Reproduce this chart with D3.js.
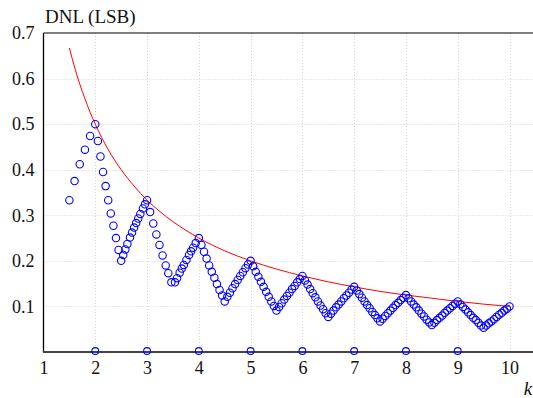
<!DOCTYPE html>
<html>
<head>
<meta charset="utf-8">
<script src="https://cdn.jsdelivr.net/npm/d3@7"></script>
<style>
  html, body { margin: 0; padding: 0; background: #fff; }
  svg { display: block; }
  svg text { font-family: "Liberation Serif", "Times New Roman", Times, "DejaVu Serif", serif; fill: #111; }
</style>
</head>
<body>
<svg id="chart" width="533" height="398"></svg>
<script>
// ---- data ----
const kValues = [
  1.5, 1.6, 1.7, 1.8, 1.9, 2.0,
  2.05, 2.10, 2.15, 2.20, 2.25, 2.30, 2.35, 2.40, 2.45, 2.50,
  2.54, 2.58, 2.62, 2.67, 2.71, 2.75, 2.79, 2.83, 2.87, 2.92, 2.96, 3.00,
  3.06, 3.12, 3.18, 3.24, 3.30, 3.36, 3.41, 3.47,
  3.54, 3.58, 3.63, 3.67, 3.71, 3.76, 3.81, 3.85, 3.89, 3.94, 4.00,
  4.05, 4.10, 4.15, 4.20, 4.25, 4.30, 4.35, 4.40, 4.45, 4.50,
  4.55, 4.60, 4.65, 4.70, 4.75, 4.80, 4.85, 4.90, 4.95, 5.00,
  5.05, 5.10, 5.15, 5.20, 5.25, 5.30, 5.35, 5.40, 5.45, 5.50,
  5.55, 5.60, 5.65, 5.70, 5.75, 5.80, 5.85, 5.90, 5.95, 6.00,
  6.05, 6.10, 6.15, 6.20, 6.25, 6.30, 6.35, 6.40, 6.45, 6.50,
  6.55, 6.60, 6.65, 6.70, 6.75, 6.80, 6.85, 6.90, 6.95, 7.00,
  7.05, 7.10, 7.15, 7.20, 7.25, 7.30, 7.35, 7.40, 7.45, 7.50,
  7.55, 7.60, 7.65, 7.70, 7.75, 7.80, 7.85, 7.90, 7.95, 8.00,
  8.05, 8.10, 8.15, 8.20, 8.25, 8.30, 8.35, 8.40, 8.45, 8.50,
  8.55, 8.60, 8.65, 8.70, 8.75, 8.80, 8.85, 8.90, 8.95, 9.00,
  9.05, 9.10, 9.15, 9.20, 9.25, 9.30, 9.35, 9.40, 9.45, 9.50,
  9.55, 9.60, 9.65, 9.70, 9.75, 9.80, 9.85, 9.90, 9.95, 10.00
];
const dnlValues = [
  0.333, 0.375, 0.412, 0.444, 0.474, 0.500,
  0.463, 0.429, 0.395, 0.364, 0.333, 0.304, 0.277, 0.250, 0.224, 0.200,
  0.213, 0.225, 0.237, 0.251, 0.262, 0.273, 0.283, 0.293, 0.303, 0.315, 0.324, 0.333,
  0.307, 0.282, 0.258, 0.235, 0.212, 0.190, 0.173, 0.153,
  0.153, 0.162, 0.174, 0.183, 0.191, 0.202, 0.213, 0.221, 0.229, 0.239, 0.250,
  0.235, 0.220, 0.205, 0.190, 0.176, 0.163, 0.149, 0.136, 0.124, 0.111,
  0.121, 0.130, 0.140, 0.149, 0.158, 0.167, 0.175, 0.184, 0.192, 0.200,
  0.188, 0.176, 0.165, 0.154, 0.143, 0.132, 0.121, 0.111, 0.101, 0.091,
  0.099, 0.107, 0.115, 0.123, 0.130, 0.138, 0.145, 0.153, 0.160, 0.167,
  0.157, 0.148, 0.138, 0.129, 0.120, 0.111, 0.102, 0.094, 0.085, 0.077,
  0.084, 0.091, 0.098, 0.104, 0.111, 0.118, 0.124, 0.130, 0.137, 0.143,
  0.135, 0.127, 0.119, 0.111, 0.103, 0.096, 0.088, 0.081, 0.074, 0.067,
  0.073, 0.079, 0.085, 0.091, 0.097, 0.103, 0.108, 0.114, 0.119, 0.125,
  0.118, 0.111, 0.104, 0.098, 0.091, 0.084, 0.078, 0.071, 0.065, 0.059,
  0.064, 0.070, 0.075, 0.080, 0.086, 0.091, 0.096, 0.101, 0.106, 0.111,
  0.105, 0.099, 0.093, 0.087, 0.081, 0.075, 0.070, 0.064, 0.058, 0.053,
  0.058, 0.063, 0.067, 0.072, 0.077, 0.082, 0.086, 0.091, 0.095, 0.100
];
// points lying on the axis (DNL = 0) at integer k
const zeroK = [2, 3, 4, 5, 6, 7, 8, 9];
const zeroDnl = [0, 0, 0, 0, 0, 0, 0, 0];
// red bound curve
const boundK = [1.5, 1.6, 1.7, 1.8, 1.9, 2.0, 2.25, 2.5, 2.75, 3.0, 3.25, 3.5, 3.75, 4.0,
  4.5, 5.0, 5.5, 6.0, 6.5, 7.0, 7.5, 8.0, 8.5, 9.0, 9.5, 10.0];
const boundDnl = [0.667, 0.625, 0.588, 0.556, 0.526, 0.500, 0.444, 0.400, 0.364, 0.333, 0.308,
  0.286, 0.267, 0.250, 0.222, 0.200, 0.182, 0.167, 0.154, 0.143, 0.133, 0.125, 0.118, 0.111,
  0.105, 0.100];
const xTicks = [1, 2, 3, 4, 5, 6, 7, 8, 9, 10];
const yTicks = [0.1, 0.2, 0.3, 0.4, 0.5, 0.6, 0.7];

// ---- layout ----
const FONT = '"Liberation Serif", "Times New Roman", Times, "DejaVu Serif", serif';
const svg = d3.select("#chart");
const W = 533, H = 398;
const x = d3.scaleLinear().domain([1, 10]).range([43.5, 509.5]);
const y = d3.scaleLinear().domain([0, 0.7]).range([352, 33]);
const xRight = W;

// grid
const grid = svg.append("g").attr("stroke", "#d4d4d4").attr("stroke-width", 1)
  .attr("stroke-dasharray", "1,2");
grid.selectAll("line.v").data(xTicks.filter(d => d > 1)).join("line")
  .attr("x1", d => Math.round(x(d)) + 0.5).attr("x2", d => Math.round(x(d)) + 0.5)
  .attr("y1", y(0.7)).attr("y2", y(0));
grid.selectAll("line.h").data(yTicks.filter(d => d < 0.7)).join("line")
  .attr("x1", x(1)).attr("x2", xRight)
  .attr("y1", d => Math.round(y(d)) + 0.5).attr("y2", d => Math.round(y(d)) + 0.5);

// frame
svg.append("line").attr("x1", x(1)).attr("x2", xRight).attr("y1", y(0.7)).attr("y2", y(0.7))
  .attr("stroke", "#000").attr("stroke-width", 1);
svg.append("line").attr("x1", x(1)).attr("x2", x(1)).attr("y1", y(0.7)).attr("y2", y(0))
  .attr("stroke", "#000").attr("stroke-width", 1.3);
svg.append("line").attr("x1", x(1) - 0.6).attr("x2", xRight).attr("y1", y(0)).attr("y2", y(0))
  .attr("stroke", "#444").attr("stroke-width", 2);

// axes labels via d3 axes (no tick lines)
const xAxis = svg.append("g").attr("transform", `translate(0,${y(0)})`)
  .call(d3.axisBottom(x).tickValues(xTicks).tickSize(0).tickPadding(9).tickFormat(d3.format("d")));
xAxis.attr("font-family", FONT).attr("font-size", 18);
xAxis.select(".domain").remove();
xAxis.selectAll("text").style("font-family", FONT).style("font-size", "18px").attr("fill", "#111");

const yAxis = svg.append("g").attr("transform", `translate(${x(1)},0)`)
  .call(d3.axisLeft(y).tickValues(yTicks).tickSize(0).tickPadding(9).tickFormat(d3.format(".1f")));
yAxis.attr("font-family", FONT).attr("font-size", 18);
yAxis.select(".domain").remove();
yAxis.selectAll("text").style("font-family", FONT).style("font-size", "18px").attr("fill", "#111");

// titles
svg.append("text").attr("x", 45).attr("y", 23).style("font-family", FONT).style("font-size", "19px").text("DNL (LSB)");
svg.append("text").attr("x", 528).attr("y", 395).attr("text-anchor", "middle")
  .style("font-family", FONT).style("font-size", "19px").style("font-style", "italic").text("k");

// red bound
const line = d3.line().x(d => x(d[0])).y(d => y(d[1])).curve(d3.curveMonotoneX);
svg.append("path").datum(boundK.map((k, i) => [k, boundDnl[i]]))
  .attr("d", line).attr("fill", "none").attr("stroke", "#ff0000").attr("stroke-width", 1);

// circles
svg.append("g").selectAll("circle").data(kValues.map((k, i) => [k, dnlValues[i]])).join("circle")
  .attr("cx", d => x(d[0])).attr("cy", d => y(d[1])).attr("r", 3.7)
  .attr("fill", "none").attr("stroke", "#0000ff").attr("stroke-width", 1.1);
svg.append("g").selectAll("circle").data(zeroK.map((k, i) => [k, zeroDnl[i]])).join("circle")
  .attr("cx", d => x(d[0])).attr("cy", d => y(d[1]) - 1).attr("r", 3.4)
  .attr("fill", "none").attr("stroke", "#0000ff").attr("stroke-width", 1.1);
</script>
</body>
</html>
